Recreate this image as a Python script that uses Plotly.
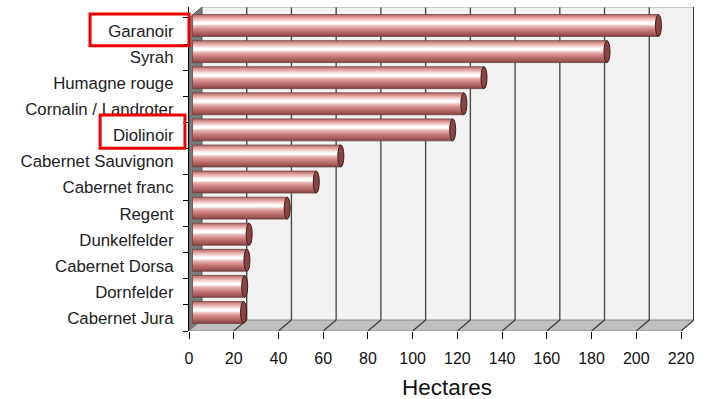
import plotly.graph_objects as go

# Red grape varieties, listed top to bottom, area in hectares
varieties = ["Garanoir", "Syrah", "Humagne rouge", "Cornalin / Landroter", "Diolinoir",
             "Cabernet Sauvignon", "Cabernet franc", "Regent", "Dunkelfelder",
             "Cabernet Dorsa", "Dornfelder", "Cabernet Jura"]
hectares = [207, 184, 129, 120, 115, 65, 54, 41, 24, 23, 22, 21.5]
x_ticks = [0, 20, 40, 60, 80, 100, 120, 140, 160, 180, 200, 220]
highlighted = ["Garanoir", "Diolinoir"]

# Cylinder shading, bottom (0) to top (1)
cyl_scale = [[0.0, "#7e3c3c"], [0.08, "#9c5454"], [0.2, "#b86a6a"], [0.35, "#d48c8c"],
             [0.48, "#ecbaba"], [0.57, "#ffffff"], [0.65, "#ffffff"], [0.76, "#f4cccc"],
             [0.88, "#dc9898"], [1.0, "#b06666"]]

FONT = "Liberation Sans, Arial, sans-serif"
X_MAX = 220          # last value on the front axis
DX = 5.8             # depth of the box along x (data units)
DY = 0.42            # depth of the box along y (category units)
HALF_DX, HALF_DY = DX / 2, DY / 2
BAR_H = 0.84         # cylinder diameter (category units)
CAP_RX = 1.34        # half width of the end cap ellipse (x units)

order = list(reversed(varieties))          # bottom-to-top positions 0..n-1
vals = list(reversed(hectares))
idx = {name: i for i, name in enumerate(order)}
n = len(order)
Y0, Y1 = -0.5, n - 0.5 + DY

fig = go.Figure()

# each cylinder body: a filled outline with a vertical shading gradient
bar_start = HALF_DX - CAP_RX
for name, v in zip(order, vals):
    i = idx[name]
    lo, hi = i + HALF_DY - BAR_H / 2, i + HALF_DY + BAR_H / 2
    end = v + HALF_DX
    fig.add_trace(go.Scatter(
        x=[bar_start, end, end, bar_start, bar_start], y=[lo, lo, hi, hi, lo],
        mode="lines", fill="toself",
        fillgradient=dict(type="vertical", colorscale=cyl_scale, start=lo, stop=hi),
        line=dict(color="#6e4646", width=0.8),
        name=name, hoverinfo="skip", showlegend=False))

shapes = []
# back wall
shapes.append(dict(type="rect", xref="x", yref="y", x0=DX, x1=X_MAX + DX, y0=Y0 + DY, y1=Y1,
                   fillcolor="#f2f2f2", line=dict(width=0), layer="below"))
# left side wall
shapes.append(dict(type="path", xref="x", yref="y",
                   path=f"M 0 {Y0} L {DX} {Y0 + DY} L {DX} {Y1} L 0 {n - 0.5} Z",
                   fillcolor="#7a7a7a", line=dict(color="#555555", width=1), layer="below"))
# floor
shapes.append(dict(type="path", xref="x", yref="y",
                   path=f"M 0 {Y0} L {X_MAX} {Y0} L {X_MAX + DX} {Y0 + DY} L {DX} {Y0 + DY} Z",
                   fillcolor="#bfbfbf", line=dict(color="#8a8a8a", width=1), layer="below"))
# vertical grid lines on the back wall and diagonal ones across the floor
for t in x_ticks[1:]:
    shapes.append(dict(type="line", xref="x", yref="y", x0=t + DX, x1=t + DX,
                       y0=Y0 + DY, y1=Y1, line=dict(color="#4d4d4d", width=1.4), layer="below"))
    shapes.append(dict(type="line", xref="x", yref="y", x0=t, x1=t + DX,
                       y0=Y0, y1=Y0 + DY, line=dict(color="#3a3a3a", width=1.2), layer="below"))
# top edge of the back wall
shapes.append(dict(type="line", xref="x", yref="y", x0=DX, x1=X_MAX + DX, y0=Y1, y1=Y1,
                   line=dict(color="#a0a0a0", width=1), layer="below"))
# right edge of the back wall
shapes.append(dict(type="line", xref="x", yref="y", x0=X_MAX + DX, x1=X_MAX + DX,
                   y0=Y0 + DY, y1=Y1, line=dict(color="#222222", width=1.5), layer="below"))

# end caps of the cylinders
for name, v in zip(order, vals):
    i = idx[name]
    shapes.append(dict(type="circle", xref="x", yref="y",
                       x0=v + HALF_DX - CAP_RX, x1=v + HALF_DX + CAP_RX,
                       y0=i + HALF_DY - BAR_H / 2, y1=i + HALF_DY + BAR_H / 2,
                       fillcolor="#8a4444", line=dict(color="#3c1c1c", width=1), layer="above"))

# red frames around highlighted variety labels
def ypaper(v):
    return (v - Y0) / (Y1 - Y0)

box_specs = {"Garanoir": (-0.196, 0.0, -0.57, 0.65),
             "Diolinoir": (-0.176, -0.008, -0.49, 0.78)}
for name in highlighted:
    x0, x1, lo, hi = box_specs[name]
    i = idx[name]
    shapes.append(dict(type="rect", xref="paper", yref="paper", x0=x0, x1=x1,
                       y0=ypaper(i + lo), y1=ypaper(i + hi),
                       line=dict(color="#ee0000", width=3), fillcolor="rgba(0,0,0,0)", layer="above"))

boundaries = [i - 0.5 for i in range(n + 1)]

fig.update_layout(
    width=708, height=399,
    margin=dict(l=189, r=14, t=7, b=67.7),
    paper_bgcolor="white", plot_bgcolor="white",
    font=dict(family=FONT, color="#222222"),
    shapes=shapes,
    xaxis=dict(range=[0, X_MAX + DX], tickvals=x_ticks, ticks="outside", ticklen=7,
               tickcolor="#000000", tickwidth=1.3, showgrid=False, zeroline=False,
               showline=False, tickfont=dict(size=16, color="#111111", family=FONT),
               ticklabelstandoff=6),
    yaxis=dict(range=[Y0, Y1], tickmode="array", tickvals=list(range(n)), ticktext=order,
               ticks="", showgrid=False, zeroline=False,
               showline=True, linecolor="#000000", linewidth=1.2,
               tickfont=dict(size=16.8, color="#222222", family=FONT),
               ticklabelstandoff=11,
               minor=dict(tickmode="array", tickvals=boundaries, ticks="outside", ticklen=5,
                          tickcolor="#000000", tickwidth=1.3, showgrid=False)),
    annotations=[dict(text="Hectares", xref="paper", yref="paper",
                      x=(447 - 189) / 505, y=(331.3 - 388) / 324.3,
                      xanchor="center", yanchor="middle", showarrow=False,
                      font=dict(size=22.5, color="#111111", family=FONT))],
)

fig.write_html("out.html")
